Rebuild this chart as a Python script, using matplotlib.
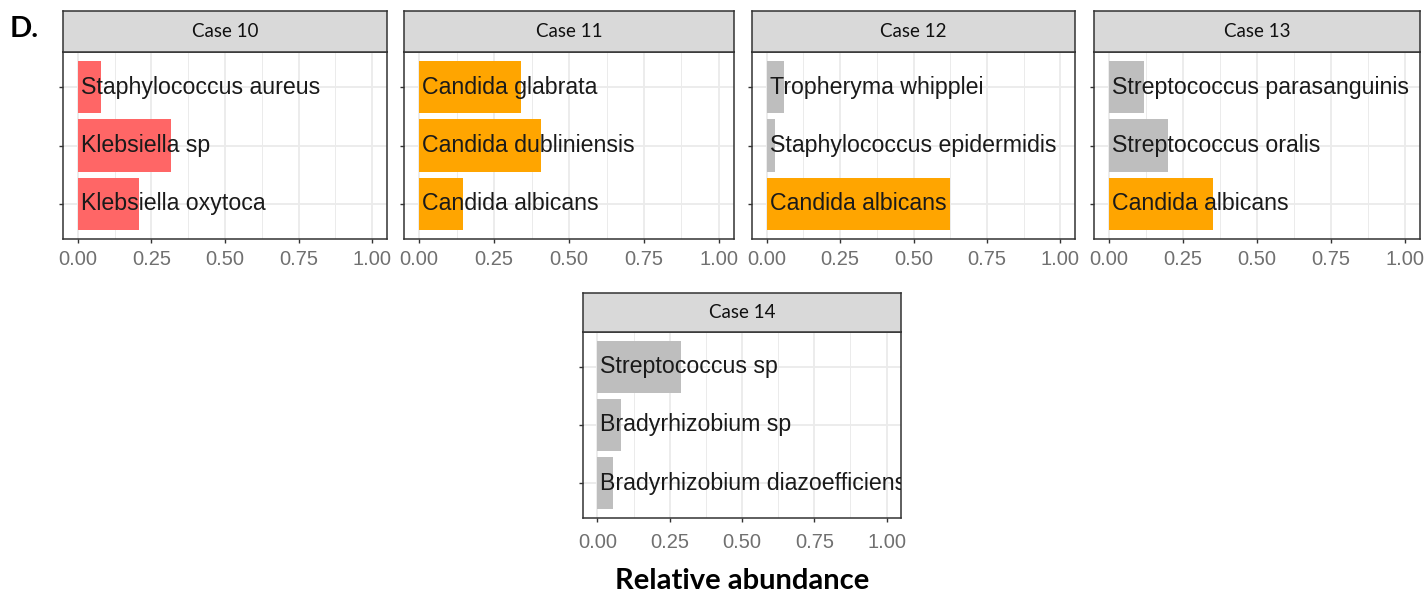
import matplotlib.pyplot as plt
from matplotlib.ticker import FixedLocator

# data, top-to-bottom order inside each panel
cases = ["Case 10", "Case 11", "Case 12", "Case 13", "Case 14"]
species = [
    ["Staphylococcus aureus", "Klebsiella sp", "Klebsiella oxytoca"],
    ["Candida glabrata", "Candida dubliniensis", "Candida albicans"],
    ["Tropheryma whipplei", "Staphylococcus epidermidis", "Candida albicans"],
    ["Streptococcus parasanguinis", "Streptococcus oralis", "Candida albicans"],
    ["Streptococcus sp", "Bradyrhizobium sp", "Bradyrhizobium diazoefficiens"],
]
abundance = [
    [0.08, 0.315, 0.207],
    [0.34, 0.405, 0.146],
    [0.058, 0.03, 0.625],
    [0.118, 0.20, 0.35],
    [0.29, 0.083, 0.055],
]
groups = [
    ["bact", "bact", "bact"],
    ["fungi", "fungi", "fungi"],
    ["other", "other", "fungi"],
    ["other", "other", "fungi"],
    ["other", "other", "other"],
]
colors = {"bact": "#FF6666", "fungi": "#FFA500", "other": "#BEBEBE"}
xticks = [0, 0.25, 0.5, 0.75, 1.0]
xticklabels = ["0.00", "0.25", "0.50", "0.75", "1.00"]

W, H = 1428, 598
fig = plt.figure(figsize=(W / 100, H / 100), dpi=100)

# panel boxes in pixels: x0, x1, plot top, plot bottom, strip top, label pad
boxes = [
    (63, 387, 52, 239, 11, 5),
    (404, 734, 52, 239, 11, 5),
    (752, 1075, 52, 239, 11, 5),
    (1094, 1420, 52, 239, 11, 5),
    (583, 901, 332, 518, 293, 8),
]

def frac(x0, x1, ytop, ybot):
    return [x0 / W, 1 - ybot / H, (x1 - x0) / W, (ybot - ytop) / H]

for i, (x0, x1, yt, yb, st, pad) in enumerate(boxes):
    ax = fig.add_axes(frac(x0, x1, yt, yb))
    n = len(species[i])
    ypos = list(range(n, 0, -1))
    ax.barh(ypos, abundance[i], height=0.9,
            color=[colors[g] for g in groups[i]], zorder=2)
    for y, name in zip(ypos, species[i]):
        ax.text(0.01, y, name, ha="left", va="center", fontsize=16.7,
                family="Liberation Sans", color="#1a1a1a", zorder=3, clip_on=True)
    ax.set_xlim(-0.05, 1.05)
    ax.set_ylim(0.4, n + 0.6)
    ax.set_xticks(xticks)
    ax.set_xticklabels(xticklabels, fontsize=14.5, family="Liberation Sans", color="#707070")
    ax.xaxis.set_minor_locator(FixedLocator([0.125, 0.375, 0.625, 0.875]))
    ax.set_yticks(ypos)
    ax.set_yticklabels([])
    ax.tick_params(which="major", length=2.75, color="#333333", width=1)
    ax.tick_params(axis="x", which="major", pad=pad)
    ax.tick_params(which="minor", length=0)
    ax.grid(which="major", color="#EBEBEB", linewidth=1.3, zorder=0)
    ax.grid(which="minor", axis="x", color="#EBEBEB", linewidth=0.7, zorder=0)
    ax.set_axisbelow(True)
    for s in ax.spines.values():
        s.set_color("#333333")
        s.set_linewidth(1.1)

    sax = fig.add_axes(frac(x0, x1, st, yt))
    sax.set_facecolor("#D9D9D9")
    sax.set_xticks([])
    sax.set_yticks([])
    for s in sax.spines.values():
        s.set_color("#333333")
        s.set_linewidth(1.1)
    sax.text(0.5, 0.5, cases[i], ha="center", va="center", fontsize=13.5,
             family="Lato", color="#111111", transform=sax.transAxes)

fig.text(10 / W, 1 - 29 / H, "D.", fontsize=21, fontweight="bold", family="Lato",
         ha="left", va="center")
fig.text(742 / W, 1 - 581 / H, "Relative abundance", fontsize=21, fontweight="bold",
         family="Lato", ha="center", va="center")

fig.savefig("out.png", dpi=100)
